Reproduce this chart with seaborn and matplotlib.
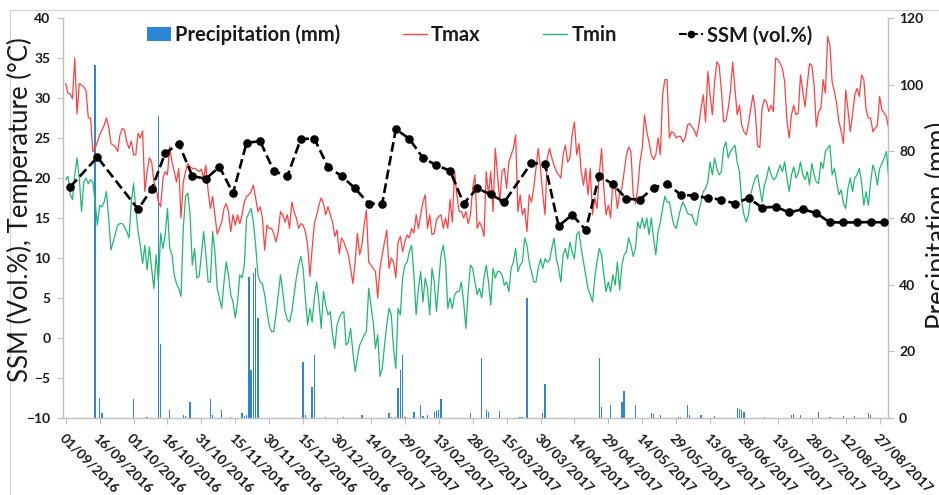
import numpy as np
import pandas as pd
import matplotlib
matplotlib.use("Agg")
import matplotlib.pyplot as plt
import matplotlib.transforms as mtransforms
from matplotlib.lines import Line2D
from matplotlib.patches import Patch
import seaborn as sns

# Daily maximum temperature (°C), 01/09/2016 - 31/08/2017
tmax = [
    31.8, 30.6, 30.5, 29.9, 35.0, 28.0, 31.8, 31.6, 31.4, 30.9, 27.5, 27.5, 23.3, 23.7, 24.5,
    25.4, 26.0, 26.6, 27.5, 26.4, 24.3, 24.1, 23.9, 23.3, 25.4, 26.2, 26.0, 24.5, 23.7, 24.6,
    22.9, 22.9, 25.6, 25.0, 25.9, 18.3, 20.8, 22.5, 22.0, 19.5, 18.7, 17.0, 16.4, 20.0, 20.8,
    20.4, 23.9, 22.0, 20.8, 19.5, 21.2, 15.0, 19.5, 20.8, 21.8, 21.4, 21.2, 21.2, 21.0, 20.8,
    21.1, 20.0, 21.6, 18.3, 16.2, 17.7, 15.4, 13.0, 13.7, 14.5, 16.2, 16.8, 15.8, 13.3, 15.4,
    14.1, 15.4, 14.3, 15.4, 17.0, 17.7, 17.9, 18.3, 19.1, 17.5, 15.8, 16.4, 15.0, 11.0, 14.1,
    13.7, 13.7, 13.1, 12.0, 13.3, 15.8, 15.4, 14.5, 15.4, 13.7, 17.0, 15.8, 15.0, 13.7, 14.3,
    14.1, 13.3, 11.6, 7.7, 11.2, 14.3, 15.4, 16.6, 17.5, 16.8, 15.4, 16.4, 15.4, 14.5, 12.7,
    13.5, 10.5, 12.5, 12.0, 11.2, 10.4, 8.7, 6.8, 9.5, 13.1, 10.4, 11.6, 14.1, 16.0, 9.5,
    9.1, 8.7, 8.3, 5.0, 8.7, 10.4, 12.0, 13.5, 8.7, 10.0, 9.5, 7.5, 12.0, 12.7, 10.8,
    12.0, 12.9, 12.5, 13.7, 13.1, 15.4, 13.7, 15.4, 17.0, 17.9, 13.7, 15.4, 12.9, 13.1, 14.8,
    15.2, 15.4, 13.7, 15.0, 13.7, 17.3, 14.5, 20.8, 17.9, 15.8, 15.8, 15.0, 15.8, 14.3, 15.4,
    18.7, 20.4, 13.7, 14.5, 13.9, 12.7, 20.8, 17.9, 20.8, 15.8, 23.7, 20.4, 17.0, 20.8, 21.2,
    18.7, 22.0, 22.9, 23.7, 25.4, 15.8, 17.9, 15.4, 16.2, 13.3, 17.9, 17.0, 18.7, 21.2, 23.7,
    21.2, 17.9, 15.4, 22.5, 23.7, 22.5, 21.6, 20.8, 20.4, 20.0, 22.9, 24.1, 22.0, 22.5, 25.4,
    27.0, 22.9, 24.3, 20.8, 19.1, 21.2, 17.9, 21.2, 15.4, 17.5, 16.2, 20.4, 23.7, 18.7, 15.4,
    16.6, 15.0, 19.5, 18.7, 16.2, 18.0, 18.7, 20.8, 22.9, 23.9, 23.3, 17.9, 16.8, 18.7, 22.0,
    23.7, 27.9, 25.8, 24.5, 22.9, 22.3, 22.9, 25.0, 22.9, 30.4, 32.3, 32.3, 25.0, 25.8, 25.6,
    25.0, 25.2, 25.2, 24.5, 25.0, 26.6, 26.8, 26.4, 26.0, 25.2, 26.6, 28.7, 30.4, 27.0, 33.3,
    30.4, 27.9, 32.0, 34.5, 34.1, 31.0, 27.0, 27.2, 28.7, 30.8, 34.5, 31.2, 27.9, 29.1, 26.6,
    25.8, 25.4, 26.8, 28.7, 30.4, 28.3, 24.0, 23.8, 28.7, 29.8, 29.5, 28.3, 29.1, 28.3, 35.0,
    34.8, 34.3, 33.7, 32.0, 27.2, 25.0, 27.9, 29.1, 27.9, 28.1, 32.9, 30.8, 28.9, 31.8, 34.3,
    34.1, 31.6, 26.4, 28.3, 28.7, 32.3, 30.6, 37.7, 36.6, 32.0, 30.8, 29.3, 27.0, 25.8, 24.3,
    31.0, 28.5, 25.8, 27.9, 30.4, 31.2, 30.2, 32.9, 32.3, 28.5, 27.5, 27.5, 25.8, 26.2, 26.6,
    30.2, 28.5, 28.1, 27.7, 26.2,
]

# Daily minimum temperature (°C)
tmin = [
    19.8, 20.2, 17.9, 17.3, 20.4, 22.5, 20.0, 15.8, 19.5, 20.0, 19.3, 19.8, 19.5, 17.0, 14.1,
    16.6, 16.4, 17.0, 18.3, 15.0, 11.0, 12.0, 13.1, 14.1, 14.3, 14.3, 13.9, 13.3, 12.5, 17.0,
    19.3, 16.2, 13.3, 11.6, 9.3, 11.6, 8.5, 11.4, 8.7, 6.2, 10.4, 7.0, 13.1, 11.2, 12.9,
    16.2, 11.2, 10.4, 7.9, 6.8, 6.2, 5.2, 13.7, 17.7, 18.1, 15.4, 9.1, 11.2, 7.5, 7.7,
    10.4, 13.3, 10.4, 7.0, 7.0, 13.3, 10.8, 6.2, 5.0, 3.7, 7.0, 9.5, 7.9, 5.4, 4.5,
    2.5, 4.5, 7.9, 7.5, 9.1, 15.0, 15.6, 16.2, 14.5, 11.6, 7.9, 7.0, 6.8, 5.4, 3.3,
    1.6, 0.8, 0.8, 2.9, 5.4, 7.9, 5.8, 3.3, 2.3, 2.0, 3.3, 5.4, 7.5, 9.1, 10.2,
    8.7, 5.0, 1.6, 3.7, 2.0, 5.0, 7.0, 4.5, 1.2, 5.8, 4.1, 2.9, 3.3, 0.4, -1.3,
    1.6, 2.5, 3.1, 3.3, -0.9, -0.5, 1.2, -1.7, -4.2, -2.5, -0.9, -0.3, 0.4, 0.8, 6.2,
    4.1, 2.0, -1.3, 0.4, -4.8, -3.8, -0.9, 1.6, 3.7, 2.9, -1.3, -3.8, 3.7, 2.9, 7.5,
    9.1, 9.5, 10.8, 11.6, 7.9, 2.9, 6.2, 8.3, 4.5, 7.5, 6.2, 2.9, 8.7, 7.0, 3.3,
    7.0, 10.4, 11.6, 9.5, 3.7, 5.0, 3.7, 5.4, 5.8, 5.8, 7.0, 4.5, 1.2, 5.8, 9.1,
    8.7, 7.0, 5.4, 6.2, 5.0, 7.5, 9.1, 7.0, 4.1, 8.7, 7.5, 8.3, 8.3, 7.9, 6.6,
    7.0, 5.8, 8.7, 9.5, 11.2, 8.3, 9.1, 9.5, 12.5, 11.6, 9.5, 8.3, 7.0, 7.0, 8.7,
    9.9, 8.7, 9.9, 9.5, 9.7, 11.2, 12.5, 9.9, 8.7, 7.0, 10.4, 11.2, 9.9, 12.0, 10.8,
    9.9, 12.9, 13.3, 11.2, 9.5, 7.9, 6.2, 5.4, 4.5, 7.5, 9.5, 11.2, 10.4, 7.9, 5.8,
    7.0, 5.8, 7.9, 6.6, 9.5, 6.0, 9.1, 10.4, 10.8, 12.5, 11.6, 10.2, 11.2, 14.5, 13.7,
    15.0, 13.7, 15.0, 12.9, 15.0, 12.5, 10.4, 13.3, 14.5, 16.2, 17.7, 17.0, 17.0, 15.4, 14.1,
    13.7, 15.0, 16.2, 17.0, 16.4, 15.6, 15.4, 15.4, 14.5, 14.1, 15.8, 17.0, 18.3, 18.7, 19.5,
    22.0, 20.4, 22.5, 21.2, 20.4, 20.8, 23.7, 24.5, 22.5, 23.3, 23.7, 24.1, 22.0, 20.8, 17.0,
    15.4, 14.5, 15.4, 17.9, 19.1, 20.0, 20.4, 18.7, 17.0, 19.1, 20.0, 21.4, 20.4, 19.8, 20.0,
    20.8, 21.6, 20.8, 22.0, 20.0, 18.3, 20.4, 21.4, 20.0, 20.6, 22.0, 20.4, 19.8, 20.8, 19.1,
    21.8, 20.4, 19.5, 19.3, 22.0, 21.2, 23.3, 23.7, 24.1, 20.4, 21.2, 19.5, 17.9, 18.5, 16.8,
    16.2, 18.7, 20.0, 18.3, 20.0, 20.4, 21.2, 19.5, 16.6, 18.3, 16.6, 19.5, 21.6, 20.8, 19.1,
    21.2, 21.8, 22.5, 23.3, 20.0,
]

# Surface soil moisture acquisitions (day index from 01/09/2016) and values (vol.%)
ssm_day = [2, 14, 32, 38, 44, 50, 56, 62, 68, 74,
           80, 86, 92, 98, 104, 110, 116, 122, 128, 134,
           140, 146, 152, 158, 164, 170, 176, 182, 188, 194,
           206, 212, 218, 224, 230, 236, 242, 248, 254, 260,
           266, 272, 278, 284, 290, 296, 302, 308, 314, 320,
           326, 332, 338, 344, 350, 356, 362]
ssm = [18.9, 22.6, 16.1, 18.6, 23.1, 24.3, 20.25, 19.9, 21.4, 18.1,
       24.4, 24.6, 20.9, 20.2, 24.9, 24.9, 21.4, 20.25, 18.7, 16.8,
       16.8, 26.1, 24.9, 22.5, 21.6, 20.9, 16.8, 18.7, 17.95, 17.0,
       21.9, 21.7, 14.0, 15.4, 13.5, 20.3, 19.2, 17.4, 17.3, 18.8,
       19.3, 17.9, 17.8, 17.5, 17.3, 16.8, 17.5, 16.3, 16.4, 15.7,
       16.1, 15.6, 14.45, 14.45, 14.45, 14.5, 14.45]

# Rainy days (day index) and daily precipitation (mm)
rain_day = [13, 15, 16, 30, 36, 41, 42, 46, 52, 53, 55,
            64, 65, 69, 73, 78, 79, 80, 81, 82, 83, 84, 85,
            105, 106, 109, 110, 115, 123, 131, 143, 144, 146, 147, 148, 149, 150,
            154, 157, 158, 160, 163, 164, 165, 166, 179,
            184, 186, 187, 192, 201, 202, 204, 211, 212, 236, 237, 241,
            246, 247, 252, 259, 260, 263, 271, 272, 275, 276, 281, 287,
            297, 298, 299, 300, 309, 321, 322, 325, 333, 338, 344, 349, 355, 356]
rain_mm = [106.0, 6.0, 1.4, 5.7, 0.3, 90.6, 22.1, 2.4, 0.9, 0.5, 4.7,
           5.7, 0.9, 2.4, 0.3, 1.4, 0.6, 0.9, 42.4, 14.4, 43.4, 44.9, 30.1,
           16.9, 0.9, 9.4, 18.9, 0.3, 0.4, 0.9, 1.4, 0.3, 0.3, 8.9, 14.4, 18.9, 0.3,
           1.9, 3.9, 0.5, 0.9, 1.9, 2.1, 2.4, 5.6, 1.4,
           17.9, 2.4, 1.9, 2.1, 0.4, 0.4, 35.9, 1.4, 10.1, 17.9, 3.4, 3.9,
           4.9, 8.1, 3.9, 1.4, 1.1, 0.9, 0.3, 0.3, 3.9, 0.9, 0.9, 0.6,
           2.9, 2.7, 2.4, 1.7, 0.4, 0.9, 1.1, 0.9, 1.7, 0.4, 0.6, 0.6, 1.4, 0.9]

tick_labels = ["01/09/2016", "16/09/2016", "01/10/2016", "16/10/2016", "31/10/2016",
               "15/11/2016", "30/11/2016", "15/12/2016", "30/12/2016", "14/01/2017",
               "29/01/2017", "13/02/2017", "28/02/2017", "15/03/2017", "30/03/2017",
               "14/04/2017", "29/04/2017", "14/05/2017", "29/05/2017", "13/06/2017",
               "28/06/2017", "13/07/2017", "28/07/2017", "12/08/2017", "27/08/2017"]

# ---- tidy frames ----
n_days = len(tmax)
day = np.arange(n_days)
rain = np.zeros(n_days)
rain[rain_day] = rain_mm
df_temp = pd.DataFrame({"day": day, "Tmax": tmax, "Tmin": tmin})
df_rain = pd.DataFrame({"day": day, "rain": rain})
df_ssm = pd.DataFrame({"day": ssm_day, "ssm": ssm})

# ---- style ----
sns.set_theme(style="white")
plt.rcParams["font.family"] = ["Lato", "DejaVu Sans"]

C_RAIN = "#2B87D6"
C_TMAX = "#FF4040"
C_TMIN = "#1FB870"
C_AXIS = "#BFBFBF"
C_TEXT = "#1A1A1A"

W, H = 939, 495
fig = plt.figure(figsize=(W / 100, H / 100), dpi=100)
ax = fig.add_axes([63 / W, 1 - 418 / H, (888 - 63) / W, 400 / H])
ax2 = ax.twinx()

# precipitation bars on the secondary axis
sns.barplot(data=df_rain, x="day", y="rain", native_scale=True, width=0.6,
            color=C_RAIN, saturation=1, linewidth=0, errorbar=None, ax=ax2)

# temperature lines and SSM
sns.lineplot(data=df_temp, x="day", y="Tmax", color=C_TMAX, linewidth=0.9, ax=ax)
sns.lineplot(data=df_temp, x="day", y="Tmin", color=C_TMIN, linewidth=0.9, ax=ax)
sns.lineplot(data=df_ssm, x="day", y="ssm", color="black", linewidth=1.9,
             linestyle="--", marker="o", markersize=6.2, markeredgewidth=0, ax=ax)

ax.set_zorder(ax2.get_zorder() + 1)
ax.patch.set_visible(False)

# ---- axes ----
ax.set_xlim(-1.2, 363.7)
ax.set_ylim(-10, 40)
ax.set_yticks(np.arange(-10, 41, 5))
ax2.set_ylim(0, 120)
ax2.set_yticks(np.arange(0, 121, 20))
ax.set_xticks(np.arange(0, 15 * len(tick_labels), 15))
ax.set_xticklabels(tick_labels, rotation=-45, ha="left", va="top",
                   rotation_mode="anchor")
shift = mtransforms.ScaledTranslation(4 / 72, 0, fig.dpi_scale_trans)
for lbl in ax.get_xticklabels():
    lbl.set_transform(lbl.get_transform() + shift)

for a in (ax, ax2):
    a.set_xlabel("")
    a.set_ylabel("")
    a.grid(False)
    for s in a.spines.values():
        s.set_visible(False)

ax.spines["left"].set_visible(True)
ax.spines["bottom"].set_visible(True)
ax2.spines["right"].set_visible(True)
for s in (ax.spines["left"], ax.spines["bottom"], ax2.spines["right"]):
    s.set_color(C_AXIS)
    s.set_linewidth(1.0)

ax.tick_params(axis="y", left=True, direction="out", length=4, width=0.8,
               color=C_AXIS, labelsize=10, labelcolor=C_TEXT, pad=5)
ax.tick_params(axis="x", bottom=True, direction="out", length=4, width=0.8,
               color=C_AXIS, labelsize=10, labelcolor=C_TEXT, pad=5.5)
ax2.tick_params(axis="y", right=True, direction="out", length=4, width=0.8,
                color=C_AXIS, labelsize=10, labelcolor=C_TEXT, pad=4)
for lbl in ax.get_xticklabels() + ax.get_yticklabels() + ax2.get_yticklabels():
    lbl.set_fontweight("bold")

# axis titles
fig.text(20 / W, 1 - 210 / H, "SSM (Vol.%), Temperature (°C)", rotation=90,
         ha="center", va="center", fontsize=18.5, color=C_TEXT)
fig.text(938 / W, 1 - 225 / H, "Precipitation (mm)", rotation=90,
         ha="center", va="center", fontsize=18.5, color=C_TEXT)

# legend
handles = [
    Patch(facecolor=C_RAIN, edgecolor="none"),
    Line2D([], [], color=C_TMAX, linewidth=1.0),
    Line2D([], [], color=C_TMIN, linewidth=1.0),
    Line2D([], [], color="black", linewidth=1.5, linestyle="--", marker="o",
           markersize=4.5),
]
labels = ["Precipitation (mm)", "Tmax", "Tmin", "SSM (vol.%)"]
leg = ax.legend(handles, labels, loc="center", bbox_to_anchor=(480 / W, 1 - 35 / H),
                bbox_transform=fig.transFigure, ncol=4, frameon=False,
                fontsize=14.5, handlelength=1.2, handleheight=0.7,
                handletextpad=0.2, columnspacing=3.1, borderaxespad=0)
for t in leg.get_texts():
    t.set_fontweight("bold")
    t.set_color(C_TEXT)

# chart area frame
fig.add_artist(Line2D([10 / W, 10 / W], [0, 1 - 10 / H], transform=fig.transFigure,
                      color="#D0D0D0", linewidth=0.8))
fig.add_artist(Line2D([10 / W, 1], [1 - 10 / H, 1 - 10 / H], transform=fig.transFigure,
                      color="#D0D0D0", linewidth=0.8))

fig.savefig("out.png", dpi=100)
